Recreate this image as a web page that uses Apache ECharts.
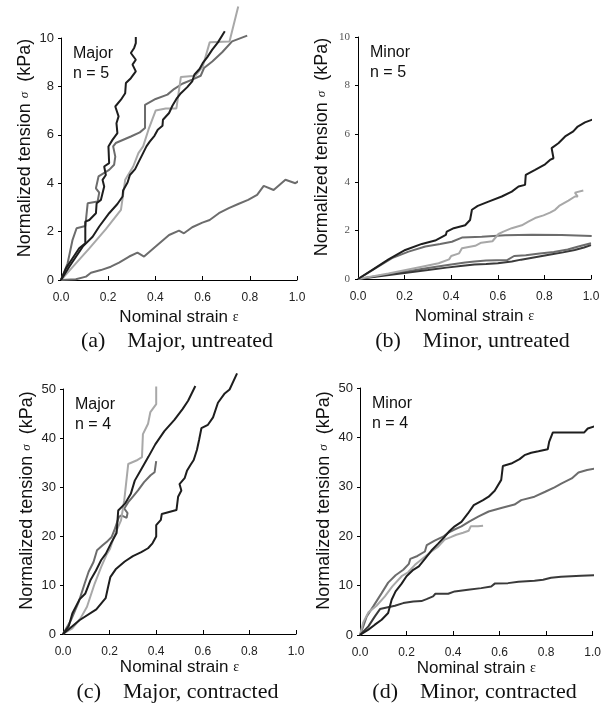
<!DOCTYPE html>
<html lang="en">
<head>
  <meta charset="UTF-8">
  <title>Normalized tension vs nominal strain</title>
</head>
<body style="margin:0; background-color:#fff;">
<div id="main" style="width:604px; height:713px;"></div>

<script src="https://cdn.jsdelivr.net/npm/echarts@6/dist/echarts.min.js"></script>

<script>
// (a) major, untreated  [strain, tension kPa]
var a1 = [[0,0],[0.021,0.48],[0.049,0.9],[0.077,1.31],[0.103,1.52],[0.103,2.41],[0.12,2.48],[0.148,2.76],[0.151,3.17],[0.169,3.31],[0.183,3.86],[0.176,4.14],[0.19,4.34],[0.183,4.69],[0.204,4.83],[0.201,5.52],[0.218,5.79],[0.239,6.07],[0.235,6.48],[0.244,6.76],[0.23,7.17],[0.254,7.45],[0.272,7.72],[0.275,8.14],[0.296,8.34],[0.317,8.62],[0.303,8.9],[0.317,9.1],[0.296,9.38],[0.31,9.59],[0.317,9.79],[0.317,10.04]];
var a2 = [[0,0],[0.028,0.69],[0.049,1.66],[0.066,2.14],[0.103,2.23],[0.113,3.17],[0.155,3.24],[0.162,3.61],[0.148,3.79],[0.159,4.28],[0.204,4.55],[0.225,4.76],[0.23,5.1],[0.221,5.52],[0.232,5.66],[0.296,5.93],[0.334,6.1],[0.356,6.28],[0.356,7.24],[0.401,7.48],[0.451,7.66],[0.479,7.89],[0.514,8.11],[0.556,8.28],[0.592,8.44],[0.606,8.76],[0.641,9.03],[0.683,9.41],[0.725,9.86],[0.789,10.1]];
var a3 = [[0,0],[0.035,0.55],[0.092,1.38],[0.134,1.79],[0.162,2.21],[0.204,2.76],[0.239,3.14],[0.261,3.45],[0.263,3.7],[0.282,4.03],[0.292,4.34],[0.314,4.58],[0.328,4.86],[0.342,5.13],[0.362,5.52],[0.376,5.72],[0.396,5.96],[0.41,6.21],[0.43,6.37],[0.432,6.62],[0.458,6.9],[0.472,7.2],[0.489,7.48],[0.508,7.72],[0.535,7.97],[0.556,8.21],[0.565,8.48],[0.587,8.72],[0.601,8.97],[0.62,9.21],[0.641,9.52],[0.665,9.82],[0.694,10.28]];
var a4 = [[0,0],[0.063,0.69],[0.12,1.31],[0.19,2.1],[0.254,2.9],[0.272,4.14],[0.306,4.69],[0.328,5.24],[0.348,5.52],[0.373,6.28],[0.401,7.0],[0.444,7.09],[0.489,7.09],[0.508,8.39],[0.57,8.44],[0.601,8.83],[0.63,9.82],[0.714,9.86],[0.751,11.3]];
var a5 = [[0,0],[0.063,0.03],[0.106,0.14],[0.127,0.3],[0.169,0.41],[0.211,0.55],[0.246,0.72],[0.289,0.97],[0.324,1.13],[0.352,0.97],[0.401,1.38],[0.458,1.86],[0.5,2.04],[0.521,1.93],[0.556,2.18],[0.599,2.37],[0.63,2.48],[0.669,2.76],[0.711,2.97],[0.751,3.14],[0.793,3.31],[0.831,3.52],[0.859,3.89],[0.901,3.72],[0.951,4.14],[0.993,4.0],[1.021,4.17]];

// (b) minor, untreated
var b1 = [[0,0],[0.06,0.37],[0.131,0.81],[0.203,1.2],[0.274,1.45],[0.331,1.59],[0.377,1.82],[0.381,1.96],[0.411,2.1],[0.46,2.22],[0.481,2.44],[0.489,2.86],[0.514,3.02],[0.56,3.2],[0.617,3.41],[0.66,3.61],[0.689,3.82],[0.717,3.89],[0.72,4.3],[0.76,4.51],[0.803,4.74],[0.824,4.92],[0.839,4.99],[0.831,5.41],[0.86,5.61],[0.889,5.89],[0.924,6.1],[0.943,6.3],[0.974,6.47],[1.024,6.65]];
var b2 = [[0,0],[0.074,0.44],[0.146,0.86],[0.217,1.13],[0.289,1.34],[0.353,1.45],[0.403,1.54],[0.446,1.71],[0.531,1.75],[0.631,1.81],[0.746,1.83],[0.874,1.82],[1.003,1.78]];
var b3 = [[0,0],[0.131,0.23],[0.274,0.51],[0.346,0.65],[0.391,0.81],[0.4,0.95],[0.434,1.06],[0.446,1.27],[0.503,1.37],[0.529,1.5],[0.577,1.56],[0.603,1.86],[0.624,1.96],[0.66,2.1],[0.703,2.22],[0.731,2.37],[0.76,2.52],[0.796,2.63],[0.824,2.74],[0.846,2.86],[0.863,3.02],[0.903,3.24],[0.931,3.41],[0.943,3.41],[0.931,3.57],[0.967,3.66]];
var b4 = [[0,0],[0.1,0.12],[0.2,0.25],[0.3,0.37],[0.38,0.47],[0.45,0.55],[0.5,0.6],[0.55,0.62],[0.6,0.65],[0.66,0.72],[0.7,0.8],[0.76,0.9],[0.82,1.0],[0.88,1.1],[0.93,1.2],[0.97,1.3],[1.0,1.4]];
var b5 = [[0,0],[0.1,0.15],[0.2,0.3],[0.3,0.45],[0.4,0.6],[0.46,0.68],[0.5,0.72],[0.55,0.76],[0.64,0.78],[0.67,0.95],[0.72,0.98],[0.78,1.05],[0.84,1.12],[0.9,1.22],[0.95,1.35],[1.0,1.48]];

// (c) major, contracted
var c1 = [[0,0],[0.04,1.15],[0.075,3.19],[0.103,5.56],[0.136,10.3],[0.164,13.7],[0.188,16.3],[0.202,17.4],[0.223,20.4],[0.249,23.2],[0.263,27.3],[0.28,34.7],[0.315,35.4],[0.339,36.1],[0.343,40.8],[0.365,42.9],[0.375,45.3],[0.4,46.9],[0.4,50.5]];
var c2 = [[0,0],[0.025,1.63],[0.04,4.2],[0.071,7.06],[0.096,8.28],[0.117,10.9],[0.141,12.9],[0.164,15.1],[0.184,16.4],[0.206,18.5],[0.23,20.6],[0.237,25.2],[0.266,26.6],[0.291,28.6],[0.308,31.3],[0.339,33.9],[0.367,36.2],[0.396,38.7],[0.435,41.4],[0.478,43.7],[0.513,45.9],[0.537,47.6],[0.568,50.6]];
var c3 = [[0,0],[0.033,2.7],[0.068,6.6],[0.093,10.3],[0.11,12.7],[0.131,14.7],[0.146,17.1],[0.17,18.1],[0.192,19.0],[0.209,19.8],[0.223,21.5],[0.24,23.9],[0.251,24.2],[0.273,23.7],[0.277,24.7],[0.263,25.6],[0.28,26.9],[0.301,28.1],[0.322,29.3],[0.348,31.0],[0.376,32.4],[0.393,33.0],[0.4,35.3]];
var c4 = [[0,0],[0.072,2.86],[0.143,5.03],[0.183,7.3],[0.193,9.5],[0.203,11.6],[0.226,13.2],[0.265,14.8],[0.3,15.9],[0.336,16.7],[0.365,17.5],[0.384,18.5],[0.4,19.9],[0.4,22.2],[0.42,23.3],[0.424,24.5],[0.487,25.3],[0.494,28.0],[0.508,29.3],[0.5,30.6],[0.522,31.8],[0.532,33.3],[0.547,34.5],[0.561,35.5],[0.575,37.6],[0.584,39.6],[0.594,42.0],[0.622,42.7],[0.644,44.2],[0.665,47.2],[0.694,49.1],[0.715,49.9],[0.747,53.2]];

// (d) minor, contracted
var d1 = [[0,0],[0.036,1.08],[0.064,2.09],[0.093,3.1],[0.121,4.44],[0.136,7.14],[0.153,8.82],[0.179,10.4],[0.2,11.9],[0.229,13.2],[0.253,13.9],[0.279,15.4],[0.307,17.1],[0.336,18.5],[0.364,19.9],[0.386,21.1],[0.407,22.0],[0.436,22.9],[0.464,24.6],[0.489,26.3],[0.529,27.3],[0.553,28.0],[0.579,29.2],[0.607,31.4],[0.614,34.2],[0.65,34.7],[0.686,35.6],[0.707,36.4],[0.736,36.9],[0.767,37.2],[0.807,37.6],[0.813,39.1],[0.829,41.0],[0.964,41.0],[0.979,41.8],[1.025,42.5]];
var d2 = [[0,0],[0.014,1.75],[0.029,3.77],[0.057,5.79],[0.093,8.48],[0.121,10.6],[0.153,12.1],[0.186,13.2],[0.21,14.4],[0.216,15.4],[0.247,16.0],[0.279,16.9],[0.287,18.2],[0.321,19.1],[0.357,19.9],[0.376,20.6],[0.404,21.3],[0.436,22.0],[0.471,23.0],[0.51,24.0],[0.553,25.0],[0.607,25.7],[0.664,26.4],[0.693,27.3],[0.75,28.0],[0.796,29.0],[0.836,29.9],[0.867,30.7],[0.91,31.7],[0.939,32.9],[0.976,33.4],[1.014,33.7]];
var d3 = [[0,0],[0.014,2.56],[0.036,4.58],[0.071,5.93],[0.107,7.81],[0.139,9.83],[0.179,11.9],[0.207,12.7],[0.236,14.2],[0.267,15.4],[0.307,16.9],[0.336,17.9],[0.364,19.3],[0.39,19.8],[0.414,20.3],[0.443,20.7],[0.467,21.1],[0.476,22.0],[0.507,22.0],[0.529,22.1]];
var d4 = [[0,0],[0.036,1.75],[0.064,3.77],[0.086,5.25],[0.11,5.52],[0.15,5.93],[0.186,6.46],[0.229,6.8],[0.264,6.87],[0.286,7.27],[0.314,7.81],[0.324,8.35],[0.379,8.35],[0.407,8.82],[0.464,9.16],[0.521,9.49],[0.564,9.83],[0.579,10.4],[0.636,10.5],[0.681,10.8],[0.75,11.0],[0.787,11.2],[0.821,11.6],[0.864,11.8],[0.95,12.0],[1.007,12.1]];

var BLACK = '#1e1e1e', DARK = '#3a3a3a', GRAY = '#6c6c6c', LIGHT = '#a8a8a8';

var panels = [
  { grid: { left: 61, top: 38, width: 236, height: 242 }, yMax: 10, yStep: 2, serif: false,
    curves: [[a5, GRAY], [a2, GRAY], [a4, LIGHT], [a3, BLACK], [a1, BLACK]],
    tag: 'Major\nn = 5', cap: '(a)', capText: 'Major, untreated', capY: 341 },
  { grid: { left: 358, top: 37, width: 233, height: 242 }, yMax: 10, yStep: 2, serif: true,
    curves: [[b2, GRAY], [b5, GRAY], [b4, DARK], [b3, LIGHT], [b1, BLACK]],
    tag: 'Minor\nn = 5', cap: '(b)', capText: 'Minor, untreated', capY: 341 },
  { grid: { left: 63, top: 389, width: 233, height: 245 }, yMax: 50, yStep: 10, serif: false,
    curves: [[c3, GRAY], [c1, LIGHT], [c2, BLACK], [c4, BLACK]],
    tag: 'Major\nn = 4', cap: '(c)', capText: 'Major, contracted', capY: 692 },
  { grid: { left: 360, top: 388, width: 233, height: 247 }, yMax: 50, yStep: 10, serif: false,
    curves: [[d2, GRAY], [d3, LIGHT], [d4, DARK], [d1, BLACK]],
    tag: 'Minor\nn = 4', cap: '(d)', capText: 'Minor, contracted', capY: 692 }
];

var chart = echarts.init(document.getElementById('main'));

var grids = [], xAxes = [], yAxes = [], series = [], graphics = [];

panels.forEach(function (p, i) {
  grids.push(p.grid);
  xAxes.push({
    type: 'value', gridIndex: i, min: 0, max: 1, interval: 0.2,
    splitLine: { show: false },
    axisLine: { lineStyle: { color: '#000', width: 1 } },
    axisTick: { inside: true, length: 4, lineStyle: { color: '#000' } },
    axisLabel: { margin: 12, fontFamily: 'Arial, Liberation Sans', fontSize: 12, color: '#222',
      formatter: function (v) { return v.toFixed(1); } },
    name: '{a|Nominal strain }{e|ε}', nameLocation: 'middle', nameGap: i < 2 ? 29 : 25,
    nameTextStyle: { rich: {
      a: { fontFamily: 'Arial, Liberation Sans', fontSize: 17, color: '#111' },
      e: { fontFamily: 'Liberation Serif', fontSize: 14, color: '#111' } } }
  });
  yAxes.push({
    type: 'value', gridIndex: i, min: 0, max: p.yMax, interval: p.yStep,
    splitLine: { show: false },
    axisLine: { show: true, lineStyle: { color: '#000', width: 1 } },
    axisTick: { show: true, length: 3, lineStyle: { color: '#000' } },
    axisLabel: p.serif
      ? { margin: 8, fontFamily: 'Liberation Serif', fontSize: 11, color: '#555' }
      : { margin: 7, fontFamily: 'Arial, Liberation Sans', fontSize: 13, color: '#222' }
  });
  p.curves.forEach(function (c) {
    series.push({
      type: 'line', xAxisIndex: i, yAxisIndex: i, data: c[0],
      showSymbol: false, symbol: 'none', clip: false, animation: false,
      lineStyle: { color: c[1], width: 2 }
    });
  });

  var g = p.grid;
  // y axis title
  graphics.push({
    type: 'text', x: g.left - 36, y: g.top + g.height / 2 - 11, rotation: Math.PI / 2,
    style: {
      text: '{a|Normalized tension }{s|σ}{a|  (kPa)}',
      align: 'center', verticalAlign: 'middle',
      rich: {
        a: { fontFamily: 'Arial, Liberation Sans', fontSize: 18, fill: '#111' },
        s: { fontFamily: 'Liberation Serif', fontStyle: 'italic', fontSize: 13, fill: '#111' }
      }
    }
  });
  // sample tag
  graphics.push({
    type: 'text', x: g.left + 12, y: g.top + 6,
    style: { text: p.tag, fontFamily: 'Arial, Liberation Sans', fontSize: 16, lineHeight: 20, fill: '#111' }
  });
  // caption
  graphics.push({
    type: 'text', x: g.left + g.width / 2 - 2, y: p.capY,
    style: {
      text: p.cap + '    ' + p.capText, align: 'center', verticalAlign: 'middle',
      fontFamily: 'Liberation Serif', fontSize: 22, fill: '#111'
    }
  });
});

chart.setOption({
  backgroundColor: '#fff',
  animation: false,
  grid: grids,
  xAxis: xAxes,
  yAxis: yAxes,
  series: series,
  graphic: graphics
});
</script>
</body>
</html>
